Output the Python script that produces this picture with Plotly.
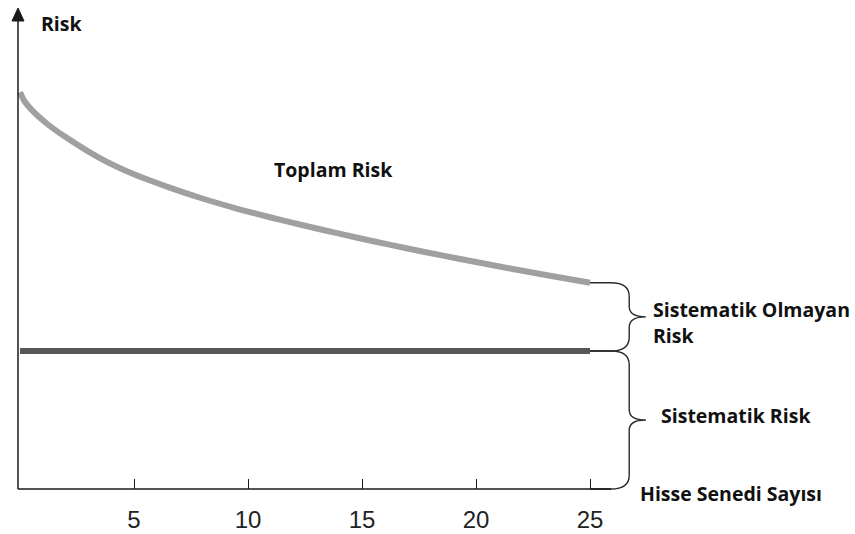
import plotly.graph_objects as go

# Number of stocks in the portfolio and the corresponding risk levels
n_stocks = [0, 0.2, 0.6, 1.2, 2, 3.5, 5, 6.5, 8, 9.5, 11, 12.5, 14, 15.5, 17, 18.5, 20, 21.5, 23, 25]
total_risk = [115, 112.4, 109.3, 105.8, 102.0, 95.9, 91.2, 87.5, 84.2, 81.3, 78.7, 76.3,
              74.0, 71.8, 69.7, 67.7, 65.8, 63.9, 62.1, 59.8]
systematic_risk = [40, 40]
systematic_x = [0, 25]
tick_vals = [5, 10, 15, 20, 25]
tick_text = ["5", "10", "15", "20", "25"]

W, H = 855, 534
PX_X = 22.8      # pixels per stock
PX_Y = 3.45      # pixels per risk unit
X0_PX = 20       # pixel column of x = 0
B_MARGIN = 40
PLOT_H = H - B_MARGIN
Y0_PX = 489      # pixel row of y = 0

x_range = [-X0_PX / PX_X, (W - X0_PX) / PX_X]
y_range = [-(PLOT_H - Y0_PX) / PX_Y, Y0_PX / PX_Y]

fig = go.Figure()

fig.add_trace(go.Scatter(
    x=n_stocks, y=total_risk, mode="lines",
    line=dict(color="#a0a0a0", width=6, shape="spline", smoothing=0.8),
    hoverinfo="skip", showlegend=False,
))
fig.add_trace(go.Scatter(
    x=systematic_x, y=systematic_risk, mode="lines",
    line=dict(color="#575757", width=6),
    hoverinfo="skip", showlegend=False,
))

x_end = n_stocks[-1]
top_end = total_risk[-1]
sys_level = systematic_risk[0]

# brace geometry, in data units
stem = x_end + 1.72
tip = x_end + 2.45
lead = x_end + 0.92


def brace(y_top, y_bot, start_lead, end_lead, r_end, r_tip):
    mid = (y_top + y_bot) / 2
    return (
        f"M {x_end},{y_top} L {start_lead},{y_top} "
        f"Q {stem},{y_top} {stem},{y_top - r_end} "
        f"L {stem},{mid + r_tip} "
        f"Q {stem},{mid} {tip},{mid} "
        f"Q {stem},{mid} {stem},{mid - r_tip} "
        f"L {stem},{y_bot + r_end} "
        f"Q {stem},{y_bot} {end_lead},{y_bot} "
        f"L {x_end},{y_bot}"
    )


line_style = dict(color="#2a2a2a", width=1.4)
fig.add_shape(type="path", xref="x", yref="y",
              path=brace(top_end, sys_level, lead, lead, 4, 3), line=line_style)
fig.add_shape(type="path", xref="x", yref="y",
              path=brace(sys_level, 0, lead, lead, 4, 3), line=line_style)

# axes drawn as lines
axis_style = dict(color="#1a1a1a", width=1.5)
y_axis_x = -2 / PX_X
fig.add_shape(type="line", xref="x", yref="y", x0=y_axis_x, x1=lead,
              y0=0, y1=0, line=axis_style)
fig.add_shape(type="line", xref="x", yref="y", x0=y_axis_x, x1=y_axis_x,
              y0=0, y1=(Y0_PX - 18) / PX_Y, line=axis_style)
# arrowhead on the vertical axis
ah_w = 6 / PX_X
fig.add_shape(type="path", xref="x", yref="y",
              path=(f"M {y_axis_x - ah_w},{(Y0_PX - 21) / PX_Y} "
                    f"L {y_axis_x},{(Y0_PX - 8) / PX_Y} "
                    f"L {y_axis_x + ah_w},{(Y0_PX - 21) / PX_Y} Z"),
              fillcolor="#1a1a1a", line=dict(color="#1a1a1a", width=1))

label_font = dict(family="Open Sans", size=19.5, color="#111111")


def label(text, x, y, anchor="left"):
    fig.add_annotation(text=f"<b>{text}</b>", x=x, y=y, xref="x", yref="y",
                       xanchor=anchor, yanchor="middle", showarrow=False,
                       font=label_font)


label("Risk", 0.83, (Y0_PX - 23) / PX_Y)
label("Toplam Risk", 13.73, (Y0_PX - 169) / PX_Y, anchor="center")
label("Sistematik Olmayan", 27.68, (Y0_PX - 309) / PX_Y)
label("Risk", 27.68, (Y0_PX - 335) / PX_Y)
label("Sistematik Risk", 28.03, (Y0_PX - 415) / PX_Y)
label("Hisse Senedi Sayısı", 27.1, (Y0_PX - 493) / PX_Y)

fig.update_layout(
    width=W, height=H,
    margin=dict(l=0, r=0, t=0, b=B_MARGIN),
    paper_bgcolor="white", plot_bgcolor="white",
    xaxis=dict(range=x_range, showgrid=False, zeroline=False, showline=False,
               tickmode="array", tickvals=tick_vals, ticktext=tick_text,
               ticks="inside", ticklen=10, tickwidth=1.2, tickcolor="#1a1a1a",
               tickfont=dict(family="Liberation Sans", size=24, color="#222222"),
               ticklabelstandoff=14,
               anchor="free", position=(PLOT_H - Y0_PX) / PLOT_H),
    yaxis=dict(range=y_range, showgrid=False, zeroline=False, showline=False,
               showticklabels=False, ticks=""),
)

fig.write_html("out.html")
